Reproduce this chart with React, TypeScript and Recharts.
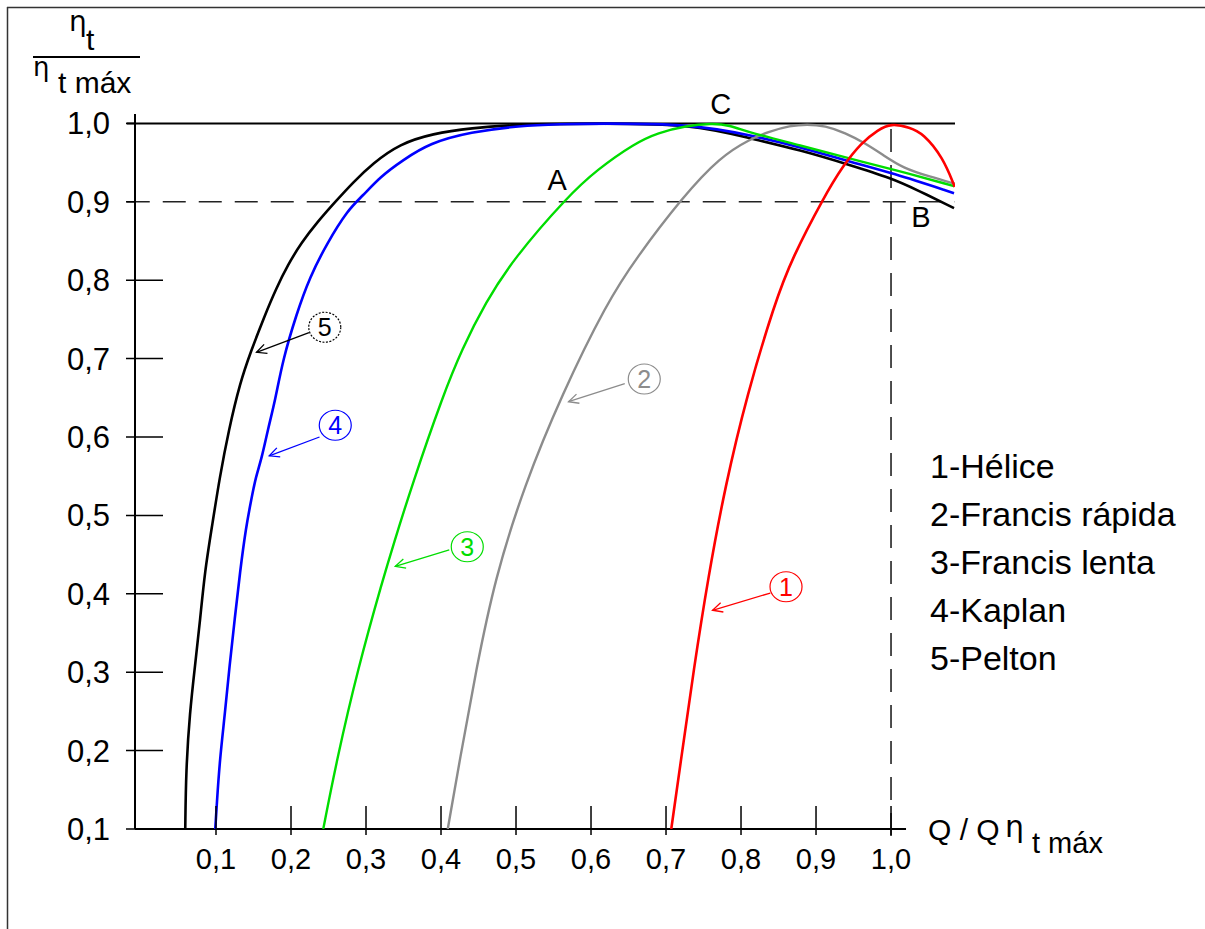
import { LineChart, Line, XAxis, YAxis, ReferenceLine, ReferenceDot } from 'recharts';

// [Q/Q_max, eta/eta_max]
const helice = [
  [0.707, 0.1], [0.72, 0.188], [0.737, 0.304], [0.756, 0.42], [0.779, 0.538],
  [0.808, 0.654], [0.845, 0.771], [0.868, 0.828], [0.911, 0.907], [0.936, 0.946],
  [0.96, 0.975], [0.983, 0.992], [1.0, 1.0], [1.025, 0.995], [1.043, 0.987],
  [1.069, 0.957], [1.085, 0.919],
];

const francisRapida = [
  [0.409, 0.1], [0.425, 0.188], [0.447, 0.304], [0.472, 0.42], [0.511, 0.538],
  [0.561, 0.654], [0.621, 0.771], [0.66, 0.828], [0.723, 0.907], [0.772, 0.957],
  [0.812, 0.98], [0.839, 0.99], [0.865, 0.997], [0.888, 0.999], [0.912, 0.997],
  [0.939, 0.988], [0.965, 0.975], [0.989, 0.96], [1.016, 0.943], [1.052, 0.932],
  [1.085, 0.923],
];

const francisLenta = [
  [0.243, 0.1], [0.261, 0.188], [0.289, 0.304], [0.323, 0.42], [0.336, 0.461],
  [0.361, 0.538], [0.403, 0.654], [0.428, 0.712], [0.459, 0.771], [0.497, 0.828],
  [0.569, 0.907], [0.608, 0.941], [0.659, 0.975], [0.689, 0.988], [0.727, 0.997],
  [0.761, 1.0], [0.784, 0.998], [0.812, 0.988], [0.879, 0.972], [0.945, 0.955],
  [1.001, 0.942], [1.084, 0.92],
];

const kaplan = [
  [0.099, 0.1], [0.101, 0.131], [0.105, 0.188], [0.112, 0.248], [0.118, 0.308],
  [0.125, 0.368], [0.132, 0.428], [0.14, 0.485], [0.147, 0.52], [0.153, 0.549],
  [0.161, 0.573], [0.169, 0.609], [0.179, 0.647], [0.189, 0.698], [0.207, 0.756],
  [0.225, 0.804], [0.248, 0.847], [0.276, 0.89], [0.295, 0.907], [0.319, 0.932],
  [0.349, 0.953], [0.385, 0.975], [0.439, 0.989], [0.505, 0.997], [0.559, 0.999],
  [0.612, 1.0], [0.736, 0.999], [0.812, 0.985], [0.879, 0.97], [0.945, 0.951],
  [1.001, 0.937], [1.084, 0.911],
];

const pelton = [
  [0.059, 0.1], [0.06, 0.175], [0.065, 0.248], [0.072, 0.308], [0.079, 0.368],
  [0.085, 0.428], [0.095, 0.488], [0.105, 0.549], [0.117, 0.609], [0.132, 0.669],
  [0.146, 0.708], [0.165, 0.755], [0.18, 0.789], [0.196, 0.82], [0.214, 0.848],
  [0.235, 0.874], [0.259, 0.9], [0.283, 0.925], [0.309, 0.949], [0.345, 0.974],
  [0.389, 0.987], [0.439, 0.994], [0.505, 0.999], [0.612, 1.0], [0.736, 0.999],
  [0.812, 0.981], [0.879, 0.966], [0.945, 0.947], [1.001, 0.93], [1.035, 0.915],
  [1.084, 0.892],
];

const qTicks = [0.1, 0.2, 0.3, 0.4, 0.5, 0.6, 0.7, 0.8, 0.9, 1.0];
const etaTicks = [0.1, 0.2, 0.3, 0.4, 0.5, 0.6, 0.7, 0.8, 0.9, 1.0];

const legendItems = ['1-Hélice', '2-Francis rápida', '3-Francis lenta', '4-Kaplan', '5-Pelton'];

// numbered callouts: circle centre and arrow, in chart units
const callouts = [
  { n: '1', color: '#ff0000', cq: 0.86, ce: 0.409, fq: 0.839, fe: 0.401, tq: 0.762, te: 0.379 },
  { n: '2', color: '#8c8c8c', cq: 0.671, ce: 0.674, fq: 0.645, fe: 0.668, tq: 0.57, te: 0.645 },
  { n: '3', color: '#00dd00', cq: 0.435, ce: 0.46, fq: 0.411, fe: 0.456, tq: 0.339, te: 0.435 },
  { n: '4', color: '#0000ff', cq: 0.259, ce: 0.615, fq: 0.238, fe: 0.6, tq: 0.171, te: 0.576 },
  { n: '5', color: '#000000', cq: 0.245, ce: 0.74, fq: 0.224, fe: 0.733, tq: 0.154, te: 0.708 },
];

const pointLabels = [
  { t: 'C', q: 0.773, e: 1.025 },
  { t: 'A', q: 0.555, e: 0.928 },
  { t: 'B', q: 1.04, e: 0.881 },
];

const FONT = '"Liberation Sans", Arial, sans-serif';
const GREEK = '"DejaVu Sans", sans-serif';
const toPoints = (arr: number[][]) => arr.map(([q, e]) => ({ q, e }));
const fmt = (v: number) => v.toFixed(1).replace('.', ',');

function QTick({ x, y, payload }: any) {
  return (
    <g>
      <line x1={x} x2={x} y1={y - 23} y2={y + 6} stroke="#000" strokeWidth={1.5} />
      <text x={x} y={y + 40} textAnchor="middle" fontSize={29} fontFamily={FONT} fill="#000">
        {fmt(payload.value)}
      </text>
    </g>
  );
}

function EtaTick({ x, y, payload }: any) {
  const full = payload.value < 0.85;
  return (
    <g>
      <line x1={x - 9} x2={full ? x + 28 : x} y1={y} y2={y} stroke="#000" strokeWidth={1.5} />
      <text x={x - 25} y={y + 11} textAnchor="end" fontSize={31} fontFamily={FONT} fill="#000">
        {fmt(payload.value)}
      </text>
    </g>
  );
}

function Arrow({ x1, y1, x2, y2, stroke }: any) {
  const a = Math.atan2(y2 - y1, x2 - x1);
  const len = 11;
  const s = 0.45;
  const ax = x2 - len * Math.cos(a - s);
  const ay = y2 - len * Math.sin(a - s);
  const bx = x2 - len * Math.cos(a + s);
  const by = y2 - len * Math.sin(a + s);
  return (
    <g>
      <line x1={x1} y1={y1} x2={x2} y2={y2} stroke={stroke} strokeWidth={1.3} />
      <polyline points={`${ax},${ay} ${x2},${y2} ${bx},${by}`} fill="none" stroke={stroke} strokeWidth={1.3} />
    </g>
  );
}

const circleShape = (n: string, color: string) => (p: any) => (
  <g>
    <ellipse cx={p.cx} cy={p.cy} rx={16} ry={15} fill="none" stroke={color} strokeWidth={1.2}
      strokeDasharray={n === '5' ? '2 1.5' : undefined} />
    <text x={p.cx} y={p.cy + 9} textAnchor="middle" fontSize={25} fontFamily={FONT} fill={color}>{n}</text>
  </g>
);

const letterShape = (t: string) => (p: any) => (
  <text x={p.cx} y={p.cy + 10} textAnchor="middle" fontSize={29} fontFamily={FONT} fill="#000">{t}</text>
);

export default function App() {
  return (
    <div style={{ position: 'absolute', left: 0, top: 0, width: 1205, height: 929, background: '#fff' }}>
      <LineChart width={1205} height={929} margin={{ top: 114, right: 250, bottom: 40, left: 0 }}>
        <XAxis type="number" dataKey="q" domain={[-0.008, 1.0853]} ticks={qTicks} interval={0}
          allowDataOverflow axisLine={false} tickLine={false} tickSize={0} tickMargin={0} height={60}
          tick={<QTick />} />
        <YAxis type="number" dataKey="e" domain={[0.1, 1.012]} ticks={etaTicks} interval={0}
          allowDataOverflow axisLine={{ stroke: '#000', strokeWidth: 2 }} tickLine={false}
          tickSize={0} tickMargin={0} width={135} tick={<EtaTick />} />

        <ReferenceLine segment={[{ x: -0.008, y: 0.1 }, { x: 1.02, y: 0.1 }]} stroke="#000" strokeWidth={2} ifOverflow="visible" />
        <ReferenceLine segment={[{ x: -0.019, y: 1.0 }, { x: 1.0853, y: 1.0 }]} stroke="#000" strokeWidth={2} ifOverflow="visible" />
        <ReferenceLine segment={[{ x: -0.019, y: 0.9 }, { x: 1.0853, y: 0.9 }]} stroke="#222" strokeWidth={1.6}
          strokeDasharray="23 13" ifOverflow="visible" />
        <ReferenceLine segment={[{ x: 1.0, y: 0.993 }, { x: 1.0, y: 0.088 }]} stroke="#222" strokeWidth={1.6}
          strokeDasharray="23 13" ifOverflow="visible" />

        <Line data={toPoints(pelton)} dataKey="e" type="basis" dot={false} stroke="#000000" strokeWidth={2.6} isAnimationActive={false} />
        <Line data={toPoints(kaplan)} dataKey="e" type="basis" dot={false} stroke="#0000ff" strokeWidth={2.6} isAnimationActive={false} />
        <Line data={toPoints(francisRapida)} dataKey="e" type="basis" dot={false} stroke="#8c8c8c" strokeWidth={2.4} isAnimationActive={false} />
        <Line data={toPoints(francisLenta)} dataKey="e" type="basis" dot={false} stroke="#00dd00" strokeWidth={2.4} isAnimationActive={false} />
        <Line data={toPoints(helice)} dataKey="e" type="basis" dot={false} stroke="#ff0000" strokeWidth={2.6} isAnimationActive={false} />

        {callouts.map((c) => (
          <ReferenceLine key={'a' + c.n} segment={[{ x: c.fq, y: c.fe }, { x: c.tq, y: c.te }]} stroke={c.color}
            ifOverflow="visible" shape={(p: any) => <Arrow {...p} stroke={c.color} />} />
        ))}
        {callouts.map((c) => (
          <ReferenceDot key={'c' + c.n} x={c.cq} y={c.ce} r={15} ifOverflow="visible" shape={circleShape(c.n, c.color)} />
        ))}
        {pointLabels.map((l) => (
          <ReferenceDot key={l.t} x={l.q} y={l.e} r={1} ifOverflow="visible" shape={letterShape(l.t)} />
        ))}
      </LineChart>

      <svg width={1205} height={929} style={{ position: 'absolute', left: 0, top: 0, pointerEvents: 'none' }}
        fontFamily={FONT} fill="#000">
        <line x1={7.5} y1={7} x2={7.5} y2={929} stroke="#333" strokeWidth={1.5} />
        <line x1={7} y1={7.5} x2={1205} y2={7.5} stroke="#333" strokeWidth={1.5} />

        <text x={69} y={31} fontSize={28} fontFamily={GREEK}>η</text>
        <text x={86} y={50} fontSize={30}>t</text>
        <line x1={33} y1={57} x2={140} y2={57} stroke="#000" strokeWidth={2} />
        <text x={33} y={76} fontSize={26} fontFamily={GREEK}>η</text>
        <text x={58} y={93} fontSize={30}>t máx</text>

        <text x={928} y={840} fontSize={30}>Q / Q</text>
        <text x={1005} y={837} fontSize={30} fontFamily={GREEK}>η</text>
        <text x={1032} y={853} fontSize={29}>t máx</text>

        {legendItems.map((t, i) => (
          <text key={t} x={930} y={478 + i * 48} fontSize={34}>{t}</text>
        ))}
      </svg>
    </div>
  );
}
